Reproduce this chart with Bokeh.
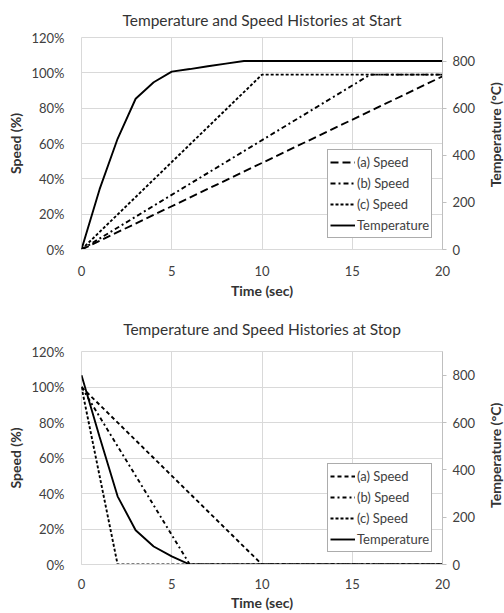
import math
from bokeh.plotting import figure
from bokeh.models import Range1d, LinearAxis, FixedTicker, NumeralTickFormatter, Legend, LegendItem
from bokeh.core.properties import value
from bokeh.layouts import column, row
from bokeh.embed import file_html
from bokeh.resources import INLINE

# ---- data: start ----
start_a_t = [0, 20]
start_a_v = [0.0, 0.98]
start_b_t = [0, 16, 20]
start_b_v = [0.0, 0.99, 0.99]
start_c_t = [0, 10, 20]
start_c_v = [0.0, 0.99, 0.99]
start_temp_t = [0, 1, 2, 3, 4, 5, 6, 7, 8, 9, 20]
start_temp_v = [0, 255, 470, 640, 710, 755, 766, 778, 789, 800, 800]

# ---- data: stop ----
stop_a_t = [0, 10, 20]
stop_a_v = [1.0, 0.0, 0.0]
stop_b_t = [0, 6, 20]
stop_b_v = [1.0, 0.0, 0.0]
stop_c_t = [0, 2, 20]
stop_c_v = [1.0, 0.0, 0.0]
stop_temp_t = [0, 1, 2, 3, 4, 5, 6, 20]
stop_temp_v = [800, 540, 288, 145, 76, 34, 0, 0]

x_ticks = [0, 5, 10, 15, 20]
speed_ticks = [0, 0.2, 0.4, 0.6, 0.8, 1.0, 1.2]
temp_ticks = [0, 200, 400, 600, 800]
labels = ["(a) Speed", "(b) Speed", "(c) Speed", "Temperature"]
right_label = "Temperature (°C)"

FONT = "Lato"
GRID = "#d9d9d9"
TXT = "#404040"
W = 486
SIDE_W = 18
LEFT = 81
RIGHT = 44


def make(title, h, top, bottom, title_standoff, xstand, xlabstand, leg_y, series, dashes):
    p = figure(width=W, height=h, x_range=Range1d(0, 20), y_range=Range1d(0, 1.2),
               output_backend="svg", toolbar_location=None,
               min_border_left=LEFT, min_border_right=RIGHT,
               min_border_top=top, min_border_bottom=bottom)
    p.extra_y_ranges = {"temp": Range1d(0, 900)}
    p.title.text = title
    p.title.text_font = FONT
    p.title.text_font_size = "15.5px"
    p.title.text_font_style = "normal"
    p.title.text_color = "#333333"
    p.title.align = "center"
    p.title.standoff = title_standoff
    p.outline_line_color = GRID
    p.background_fill_color = "white"
    p.border_fill_color = "white"

    p.xgrid.ticker = FixedTicker(ticks=x_ticks)
    p.ygrid.ticker = FixedTicker(ticks=speed_ticks)
    p.xgrid.grid_line_color = GRID
    p.ygrid.grid_line_color = GRID

    xa = p.xaxis[0]
    xa.ticker = FixedTicker(ticks=x_ticks)
    xa.axis_label = "Time (sec)"
    ya = p.yaxis[0]
    ya.ticker = FixedTicker(ticks=speed_ticks)
    ya.formatter = NumeralTickFormatter(format="0%")
    ya.axis_label = "Speed (%)"

    ra = LinearAxis(y_range_name="temp", ticker=FixedTicker(ticks=temp_ticks))
    p.add_layout(ra, "right")

    for ax in (xa, ya, ra):
        ax.major_label_text_font = FONT
        ax.major_label_text_font_size = "13px"
        ax.major_label_text_color = TXT
        ax.axis_label_text_font = FONT
        ax.axis_label_text_font_size = "14px"
        ax.axis_label_text_font_style = "bold"
        ax.axis_label_text_color = "#333333"
        ax.minor_tick_line_color = None
        ax.major_tick_in = 0
    xa.axis_line_color = GRID
    xa.major_tick_line_color = None
    xa.major_label_standoff = xstand
    xa.axis_label_standoff = xlabstand
    ya.axis_line_color = None
    ya.major_tick_line_color = None
    ya.major_label_standoff = 11
    ya.axis_label_standoff = 4
    ra.axis_line_color = "#bfbfbf"
    ra.major_tick_line_color = "#bfbfbf"
    ra.major_tick_out = 4
    ra.major_label_standoff = 6

    items = []
    for (t, v, is_temp), dash, lab in zip(series, dashes, labels):
        if is_temp:
            r = p.line(t, v, y_range_name="temp", line_color="black", line_width=1.9)
        else:
            r = p.line(t, v, line_color="black", line_width=1.9, line_dash=dash)
        items.append(LegendItem(label=lab, renderers=[r]))
    leg = Legend(items=items, location=(246, leg_y), margin=0, padding=2, spacing=1,
                 glyph_width=25, glyph_height=20, label_height=20, label_standoff=2,
                 label_text_font=FONT, label_text_font_size="13px", label_text_color=TXT,
                 border_line_color="#595959", border_line_width=1,
                 background_fill_color="white", background_fill_alpha=1)
    p.add_layout(leg, "center")

    # narrow strip on the right holding the secondary axis title (reads bottom-to-top)
    s = figure(width=SIDE_W, height=h, x_range=Range1d(0, 1), y_range=Range1d(0, h),
               output_backend="svg", toolbar_location=None, min_border=0,
               x_axis_location=None, y_axis_location=None, title=None,
               outline_line_color=None)
    s.grid.visible = False
    frame_mid = h - top - (h - top - bottom) / 2 + 4
    s.text(x=[0.5], y=[frame_mid], text=[right_label], angle=math.pi / 2,
           text_align="center", text_baseline="middle",
           text_font=value(FONT), text_font_size="14px", text_font_style="bold",
           text_color="#333333")
    return row(p, s, spacing=0)


r1 = make("Temperature and Speed Histories at Start", 302, 36, 53, 17, 10, 3, 11,
          [(start_a_t, start_a_v, False), (start_b_t, start_b_v, False),
           (start_c_t, start_c_v, False), (start_temp_t, start_temp_v, True)],
          ["8 4", "5 3 2 3", "3 2", "solid"])
r2 = make("Temperature and Speed Histories at Stop", 311, 49, 49, 28, 8, 2, 12,
          [(stop_a_t, stop_a_v, False), (stop_b_t, stop_b_v, False),
           (stop_c_t, stop_c_v, False), (stop_temp_t, stop_temp_v, True)],
          ["4 3", "4 3 2 3", "3 2", "solid"])

layout = column(r1, r2, spacing=0)
open("out.html", "w").write(file_html(layout, INLINE))
